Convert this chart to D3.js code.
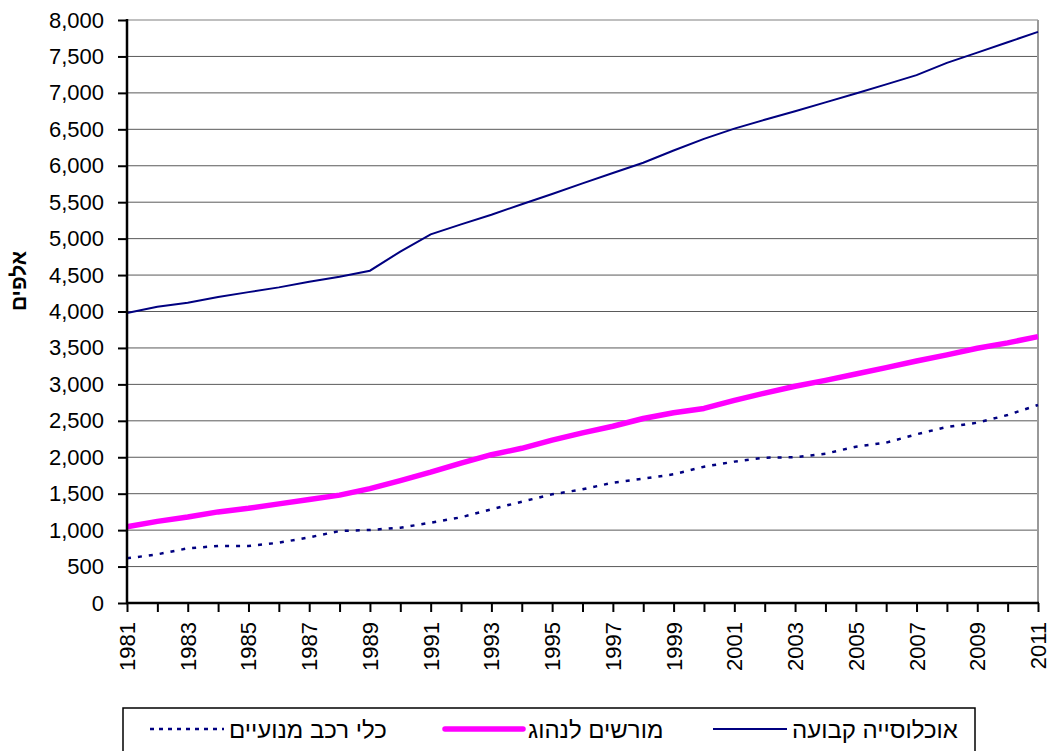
<!DOCTYPE html>
<html>
<head>
<meta charset="utf-8">
<script src="https://cdn.jsdelivr.net/npm/d3@7"></script>
<style>
  body { margin: 0; background: #fff; }
  svg { display: block; }
</style>
</head>
<body>
<div id="chart"></div>
<script>
var years = [1981, 1982, 1983, 1984, 1985, 1986, 1987, 1988, 1989, 1990,
             1991, 1992, 1993, 1994, 1995, 1996, 1997, 1998, 1999, 2000,
             2001, 2002, 2003, 2004, 2005, 2006, 2007, 2008, 2009, 2010, 2011];

// אוכלוסייה קבועה (thousands)
var population = [3978, 4064, 4119, 4200, 4266, 4331, 4407, 4477, 4560, 4822,
                  5059, 5196, 5328, 5472, 5612, 5758, 5900, 6041, 6209, 6369,
                  6509, 6631, 6748, 6870, 6991, 7117, 7244, 7412, 7552, 7695, 7837];

// מורשים לנהוג (thousands)
var drivers = [1047, 1120, 1180, 1250, 1300, 1360, 1420, 1480, 1570, 1680,
               1795, 1920, 2035, 2123, 2235, 2335, 2425, 2532, 2610, 2670,
               2780, 2880, 2975, 3055, 3142, 3230, 3320, 3405, 3495, 3570, 3655];

// כלי רכב מנועיים (thousands)
var vehicles = [613, 668, 750, 782, 782, 827, 901, 988, 1002, 1033,
                1102, 1176, 1286, 1390, 1491, 1560, 1651, 1706, 1766, 1870,
                1940, 1994, 2000, 2049, 2145, 2200, 2315, 2415, 2474, 2580, 2717];

var y_ticks = [0, 500, 1000, 1500, 2000, 2500, 3000, 3500, 4000, 4500,
               5000, 5500, 6000, 6500, 7000, 7500, 8000];

var series_names = ['אוכלוסייה קבועה', 'מורשים לנהוג', 'כלי רכב מנועיים'];

var width = 1048, height = 751;
var margin = {top: 20, right: 10, bottom: 148, left: 127};
var plot_w = 1038 - margin.left;
var plot_h = 603 - margin.top;
var font = "'Liberation Sans', Arial, sans-serif";

var svg = d3.select('#chart')
    .append('svg')
        .attr('width', width)
        .attr('height', height);

var g = svg.append('g')
    .attr('transform', 'translate(' + margin.left + ',' + margin.top + ')');

var x_scale = d3.scaleLinear()
    .domain([1981, 2011])
    .range([0, plot_w]);

var y_scale = d3.scaleLinear()
    .domain([0, 8000])
    .range([plot_h, 0]);

// gridlines
g.append('g')
    .selectAll('line')
    .data(y_ticks.filter(function(d){ return d > 0 && d < 8000; }))
    .enter()
    .append('line')
        .attr('x1', 0)
        .attr('x2', plot_w)
        .attr('y1', function(d){ return y_scale(d); })
        .attr('y2', function(d){ return y_scale(d); })
        .attr('stroke', '#5a5a5a')
        .attr('stroke-width', 1);

// top and right border
g.append('line')
    .attr('x1', 0).attr('x2', plot_w)
    .attr('y1', y_scale(8000)).attr('y2', y_scale(8000))
    .attr('stroke', '#aaa').attr('stroke-width', 1.5);
g.append('line')
    .attr('x1', plot_w).attr('x2', plot_w)
    .attr('y1', 0).attr('y2', plot_h)
    .attr('stroke', '#999').attr('stroke-width', 2);

// lines
var line_of = function(values){
    return d3.line()
        .x(function(d, i){ return x_scale(years[i]); })
        .y(function(d){ return y_scale(d); })(values);
};

g.append('path')
    .attr('d', line_of(vehicles))
    .attr('fill', 'none')
    .attr('stroke', '#000080')
    .attr('stroke-width', 2.5)
    .attr('stroke-dasharray', '4,7');

g.append('path')
    .attr('d', line_of(drivers))
    .attr('fill', 'none')
    .attr('stroke', '#FF00FF')
    .attr('stroke-width', 5.5)
    .attr('stroke-linejoin', 'round');

g.append('path')
    .attr('d', line_of(population))
    .attr('fill', 'none')
    .attr('stroke', '#000080')
    .attr('stroke-width', 2);

// axes
var y_axis = d3.axisLeft(y_scale)
    .tickValues(y_ticks)
    .tickSize(9)
    .tickPadding(14)
    .tickFormat(d3.format(','));

var x_axis = d3.axisBottom(x_scale)
    .tickValues(years)
    .tickSize(9)
    .tickFormat(function(d){ return (d - 1981) % 2 === 0 ? d : ''; });

var ya = g.append('g').attr('class', 'y-axis').call(y_axis);
ya.select('.domain').remove();
ya.selectAll('line').attr('stroke', '#000').attr('stroke-width', 2);
ya.selectAll('text')
    .style('font-family', font)
    .style('font-size', '22px')
    .attr('fill', '#000');

var xa = g.append('g')
    .attr('class', 'x-axis')
    .attr('transform', 'translate(0,' + plot_h + ')')
    .call(x_axis);
xa.select('.domain').remove();
xa.selectAll('line').attr('stroke', '#000').attr('stroke-width', 2);
xa.selectAll('text')
    .style('font-family', font)
    .style('font-size', '22px')
    .attr('fill', '#000')
    .attr('dy', null)
    .attr('y', 0)
    .attr('transform', 'translate(7.5,19) rotate(-90)')
    .style('text-anchor', 'end');

// axis lines
g.append('line')
    .attr('x1', 0).attr('x2', 0)
    .attr('y1', -1).attr('y2', plot_h + 1)
    .attr('stroke', '#000').attr('stroke-width', 2.5);
g.append('line')
    .attr('x1', -1).attr('x2', plot_w + 1)
    .attr('y1', plot_h).attr('y2', plot_h)
    .attr('stroke', '#000').attr('stroke-width', 2.5);

// y title
svg.append('text')
    .attr('transform', 'translate(26,281) rotate(-90)')
    .attr('text-anchor', 'middle')
    .style('font-family', font)
    .style('font-size', '21px')
    .style('font-weight', 'bold')
    .attr('direction', 'rtl')
    .text('אלפים');

// legend
var legend = svg.append('g');
legend.append('rect')
    .attr('x', 123).attr('y', 708)
    .attr('width', 852).attr('height', 70)
    .attr('fill', '#fff')
    .attr('stroke', '#000')
    .attr('stroke-width', 1.5);

var legend_items = [
    {name: series_names[0], key: [713, 787], color: '#000080', w: 2, dash: null},
    {name: series_names[1], key: [445, 523], color: '#FF00FF', w: 5.5, dash: null},
    {name: series_names[2], key: [150, 224], color: '#000080', w: 2.5, dash: '4,5'}
];

legend_items.forEach(function(item){
    legend.append('line')
        .attr('x1', item.key[0]).attr('x2', item.key[1])
        .attr('y1', 729).attr('y2', 729)
        .attr('stroke', item.color)
        .attr('stroke-width', item.w)
        .attr('stroke-linecap', item.w > 4 ? 'round' : 'butt')
        .attr('stroke-dasharray', item.dash);
    legend.append('text')
        .attr('x', item.key[1] + 5)
        .attr('y', 738)
        .attr('text-anchor', 'end')
        .attr('direction', 'rtl')
        .style('font-family', font)
        .style('font-size', '24px')
        .text(item.name);
});
</script>
</body>
</html>
